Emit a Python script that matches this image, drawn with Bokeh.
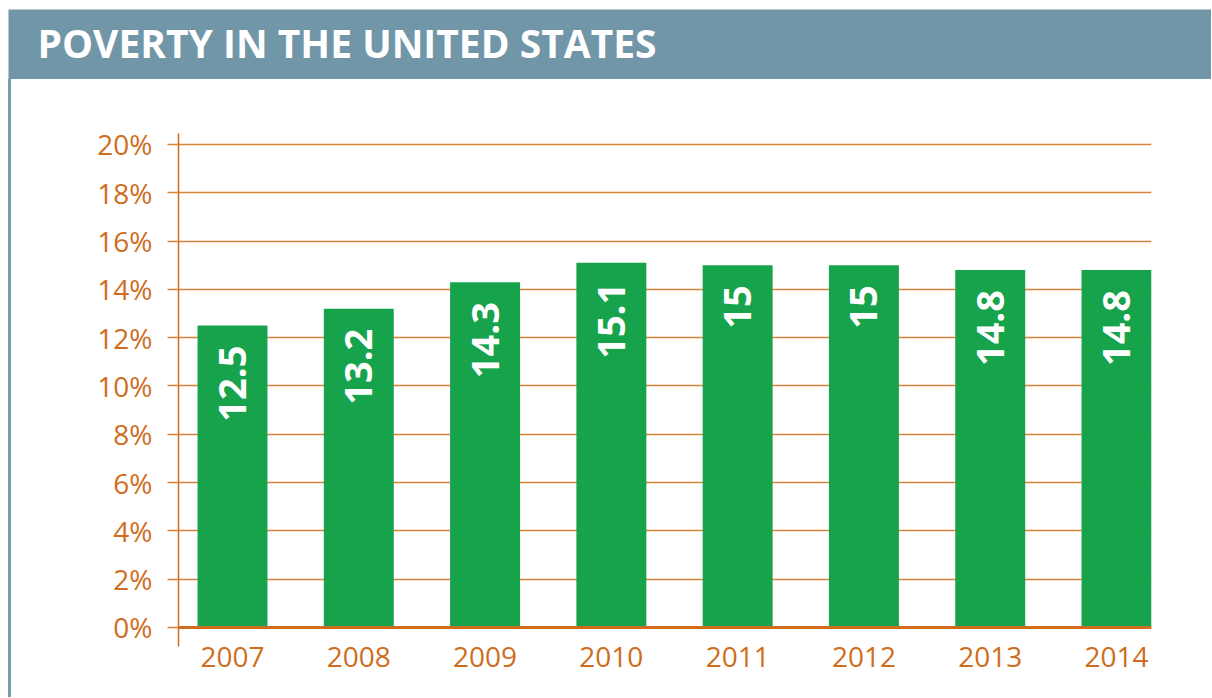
import math
from bokeh.plotting import figure
from bokeh.layouts import column, row
from bokeh.models import (Range1d, FixedTicker, PrintfTickFormatter, Span, Div,
                          ColumnDataSource)
from bokeh.core.properties import value
from bokeh.embed import file_html
from bokeh.resources import INLINE

# ---- data ----
years = ["2007", "2008", "2009", "2010", "2011", "2012", "2013", "2014"]
poverty_rate = [12.5, 13.2, 14.3, 15.1, 15, 15, 14.8, 14.8]
rate_labels = ["12.5", "13.2", "14.3", "15.1", "15", "15", "14.8", "14.8"]
y_ticks = [0, 2, 4, 6, 8, 10, 12, 14, 16, 18, 20]
title_text = "POVERTY IN THE UNITED STATES"

HEADER = "#7196a8"
ORANGE = "#cf6d1c"
GRID = "#d9823a"
GREEN = "#17a34b"
FONT = "Open Sans"

positions = list(range(len(years)))
src = ColumnDataSource(dict(x=positions, top=poverty_rate, label=rate_labels))

# ---- header ----
header = figure(width=1203, height=70, x_range=Range1d(0, 1), y_range=Range1d(0, 1),
                toolbar_location=None, output_backend="svg",
                x_axis_location=None, y_axis_location=None,
                min_border=0, outline_line_color=None,
                background_fill_color=HEADER, border_fill_color=HEADER,
                margin=(9, 0, 0, 8))
header.xgrid.visible = False
header.ygrid.visible = False
header.text(x=[0], y=[0.5], text=[title_text], x_offset=29, y_offset=-2,
            text_color="white", text_font=value(FONT), text_font_style="bold",
            text_font_size="39px", text_baseline="middle", text_align="left")

# ---- left border ----
border = Div(width=3, height=618, styles={"background-color": "#789cae"},
             margin=(0, 0, 0, 8))

# ---- main chart ----
p = figure(width=1200, height=618, toolbar_location=None, output_backend="svg",
           x_range=Range1d(-0.4276, 7.277), y_range=Range1d(-0.787, 20.455),
           min_border_left=167, min_border_right=60, min_border_top=54,
           min_border_bottom=51, outline_line_color=None,
           background_fill_color="white", border_fill_color="white")

p.vbar(x="x", top="top", width=0.554, source=src, color=GREEN, line_color=None)
p.text(x="x", y="top", text="label", source=src, angle=math.pi / 2,
       text_align="right", text_baseline="middle", y_offset=20,
       text_color="white", text_font=value(FONT), text_font_style="bold",
       text_font_size="38px")

p.add_layout(Span(location=0, dimension="width", line_color=ORANGE, line_width=3))

p.xgrid.visible = False
p.ygrid.ticker = FixedTicker(ticks=y_ticks)
p.ygrid.grid_line_color = GRID
p.ygrid.grid_line_width = 1.5

ya = p.yaxis[0]
ya.ticker = FixedTicker(ticks=y_ticks)
ya.formatter = PrintfTickFormatter(format="%d%%")
ya.axis_line_color = ORANGE
ya.axis_line_width = 1.5
ya.major_tick_line_color = GRID
ya.major_tick_line_width = 1.5
ya.major_tick_out = 11
ya.major_tick_in = 0
ya.minor_tick_line_color = None
ya.major_label_standoff = 15
ya.major_label_text_color = ORANGE
ya.major_label_text_font = FONT
ya.major_label_text_font_size = "28px"

xa = p.xaxis[0]
xa.ticker = FixedTicker(ticks=positions)
xa.major_label_overrides = {i: y for i, y in enumerate(years)}
xa.axis_line_color = None
xa.major_tick_line_color = None
xa.minor_tick_line_color = None
xa.major_tick_out = 0
xa.major_tick_in = 0
xa.major_label_standoff = 0
xa.major_label_text_color = ORANGE
xa.major_label_text_font = FONT
xa.major_label_text_font_size = "28px"

layout = column(header, row(border, p))
open("out.html", "w").write(file_html(layout, INLINE))
